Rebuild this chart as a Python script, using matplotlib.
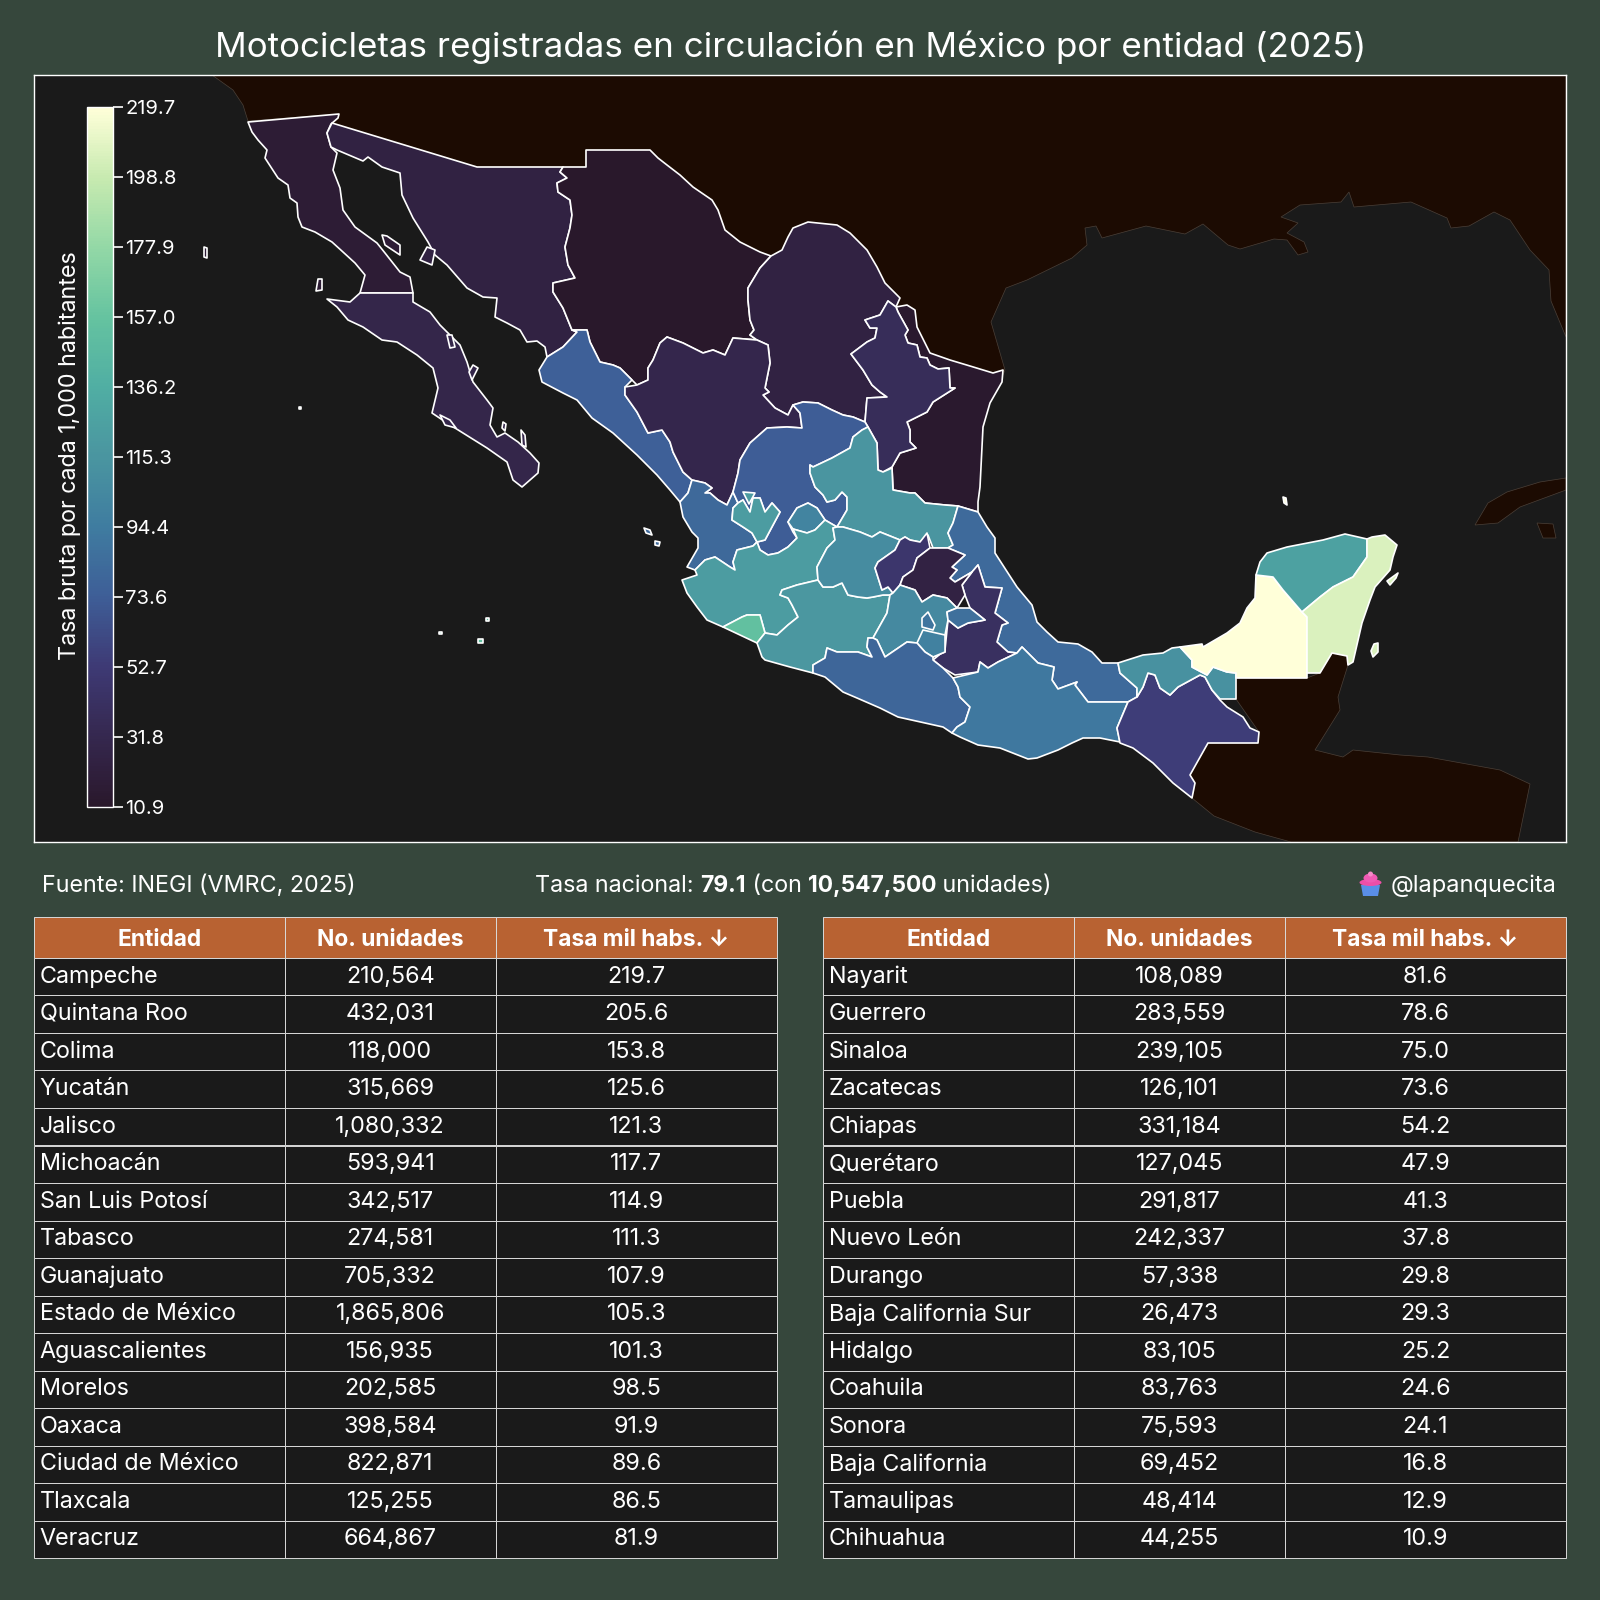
import matplotlib
matplotlib.use("Agg")
import matplotlib.pyplot as plt
from matplotlib.collections import PolyCollection
from matplotlib.colors import LinearSegmentedColormap, Normalize
from matplotlib.cm import ScalarMappable
from matplotlib.patches import Polygon, Ellipse

plt.rcParams["font.family"] = ["Inter", "DejaVu Sans"]

# table values
ENTIDADES_A = ["Campeche", "Quintana Roo", "Colima", "Yucatán", "Jalisco", "Michoacán", "San Luis Potosí", "Tabasco",
               "Guanajuato", "Estado de México", "Aguascalientes", "Morelos", "Oaxaca", "Ciudad de México", "Tlaxcala", "Veracruz"]
UNIDADES_A = ["210,564", "432,031", "118,000", "315,669", "1,080,332", "593,941", "342,517", "274,581",
              "705,332", "1,865,806", "156,935", "202,585", "398,584", "822,871", "125,255", "664,867"]
TASAS_A = [219.7, 205.6, 153.8, 125.6, 121.3, 117.7, 114.9, 111.3, 107.9, 105.3, 101.3, 98.5, 91.9, 89.6, 86.5, 81.9]

ENTIDADES_B = ["Nayarit", "Guerrero", "Sinaloa", "Zacatecas", "Chiapas", "Querétaro", "Puebla", "Nuevo León",
               "Durango", "Baja California Sur", "Hidalgo", "Coahuila", "Sonora", "Baja California", "Tamaulipas", "Chihuahua"]
UNIDADES_B = ["108,089", "283,559", "239,105", "126,101", "331,184", "127,045", "291,817", "242,337",
              "57,338", "26,473", "83,105", "83,763", "75,593", "69,452", "48,414", "44,255"]
TASAS_B = [81.6, 78.6, 75.0, 73.6, 54.2, 47.9, 41.3, 37.8, 29.8, 29.3, 25.2, 24.6, 24.1, 16.8, 12.9, 10.9]

ENCABEZADOS = ["Entidad", "No. unidades", "Tasa mil habs. ↓"]
TICKS_BARRA = [10.9, 31.8, 52.7, 73.6, 94.4, 115.3, 136.2, 157.0, 177.9, 198.8, 219.7]

# map outlines, in map units
EEUU = [(212,75),(233,90),(243,105),(248,121),(339,114),(331,124),(477,167),(586,167),(586,150),(650,150),(680,185),
        (712,210),(735,250),(771,270),(808,240),(850,250),(880,310),(910,345),(950,375),(1003,375),(1005,370),(991,322),(1006,288),
        (1027,280),(1072,258),(1087,245),(1085,228),(1096,226),(1102,238),(1146,226),(1185,234),(1203,224),(1228,245),
        (1240,249),(1274,239),(1287,240),(1298,255),(1308,252),(1304,242),(1287,233),(1298,223),(1281,217),(1300,205),
        (1341,202),(1349,192),(1354,207),(1411,202),(1447,218),(1451,228),(1469,226),(1494,212),(1510,220),(1530,250),
        (1549,270),(1551,301),(1566,337),(1566,75)]
CENTROAMERICA = [(1236,678),(1307,678),(1320,673),(1332,653),(1347,656),(1348,665),(1338,697),(1340,710),(1315,750),
                 (1343,757),(1353,750),(1400,755),(1428,757),(1500,770),(1530,784),(1518,842),(1291,842),(1255,832),
                 (1214,816),(1192,798),(1195,783),(1190,775),(1208,743),(1258,743),(1259,732),(1236,699)]
CUBA = [(1475,525),(1488,503),(1507,492),(1540,482),(1566,478),(1566,490),(1520,507),(1498,523)]
JUVENTUD = [(1537,523),(1553,524),(1556,538),(1543,538)]

BAJA_CALIFORNIA = [(248,122),(339,114),(338,118),(331,124),(327,133),(331,147),(337,153),(333,170),(340,188),(343,210),
                   (355,227),(377,243),(385,253),(400,272),(410,277),(413,293),(360,293),(365,275),(355,263),(343,252),
                   (332,242),(315,232),(302,227),(298,217),(297,203),(290,198),(288,185),(278,178),(265,158),(267,150),
                   (258,140),(252,132)]
BAJA_CALIFORNIA_SUR = [(413,293),(413,302),(430,312),(440,325),(460,345),(467,362),(473,382),(487,400),(493,408),(490,425),
                       (497,437),(505,433),(518,442),(530,453),(539,463),(538,473),(522,487),(513,480),(507,462),(487,448),
                       (463,433),(447,423),(432,413),(438,388),(433,368),(417,355),(397,342),(382,340),(363,327),(348,320),
                       (337,307),(327,299),(350,302),(360,293)]
SONORA = [(332,123),(477,167),(563,167),(560,172),(567,178),(557,183),(558,192),(570,200),(572,215),(570,228),(565,247),
          (568,265),(575,278),(553,283),(553,292),(563,308),(572,330),(577,332),(563,347),(547,357),(545,347),(537,341),
          (527,342),(520,330),(507,323),(495,317),(497,298),(483,297),(467,288),(447,265),(435,255),(428,242),(413,218),
          (402,195),(400,173),(382,167),(368,157),(363,161),(337,150),(331,147),(327,133)]
CHIHUAHUA = [(563,167),(586,167),(586,150),(650,150),(658,158),(667,165),(680,175),(693,187),(712,200),(718,210),(725,230),
             (740,242),(760,252),(771,256),(760,268),(748,288),(748,300),(750,320),(754,330),(750,335),(757,340),(733,338),
             (725,355),(713,350),(703,353),(683,343),(667,337),(660,343),(653,360),(648,368),(648,380),(637,385),(632,380),
             (620,368),(613,365),(600,362),(590,342),(587,330),(577,330),(572,330),(563,308),(553,292),(553,283),(575,278),
             (568,265),(565,247),(570,228),(572,215),(570,200),(558,192),(557,183),(567,178),(560,172)]
COAHUILA = [(771,256),(782,250),(788,237),(793,228),(808,222),(837,225),(850,233),(867,250),(877,267),(885,283),(900,298),
            (896,307),(888,301),(880,315),(865,320),(870,328),(877,328),(875,338),(867,342),(851,354),(863,370),(872,385),
            (880,392),(887,397),(867,398),(865,422),(853,417),(843,415),(832,410),(818,403),(803,402),(793,405),(788,415),
            (775,408),(763,395),(769,392),(765,388),(770,363),(768,345),(757,340),(750,335),(754,330),(750,320),(748,300),
            (748,288),(760,268)]
NUEVO_LEON = [(880,315),(888,301),(896,307),(898,312),(908,330),(905,335),(908,343),(917,345),(920,357),(927,358),(930,365),
              (938,369),(949,368),(950,388),(955,388),(933,402),(927,412),(907,422),(910,430),(910,442),(916,448),(900,453),
              (892,467),(883,472),(878,470),(877,443),(868,427),(865,422),(867,398),(887,397),(880,392),(872,385),(863,370),
              (851,354),(867,342),(875,338),(877,328),(870,328),(865,320)]
TAMAULIPAS = [(896,307),(907,305),(915,310),(917,327),(930,353),(950,360),(970,366),(993,373),(1003,370),(1002,382),(990,403),
              (983,427),(980,487),(978,502),(978,512),(958,506),(945,505),(925,503),(915,493),(910,493),(893,490),(892,467),
              (900,453),(916,448),(910,442),(910,430),(907,422),(927,412),(933,402),(955,388),(950,388),(949,368),(938,369),
              (930,365),(927,358),(920,357),(917,345),(908,343),(905,335),(908,330),(898,312)]
SAN_LUIS_POTOSI = [(868,427),(877,443),(878,470),(883,472),(892,468),(893,490),(910,493),(915,493),(925,503),(945,505),(958,506),
                   (953,523),(948,533),(953,545),(948,548),(933,548),(928,535),(920,542),(910,540),(905,537),(900,540),(880,532),
                   (872,537),(860,532),(843,527),(837,527),(847,510),(847,497),(842,492),(835,500),(827,502),(823,495),(815,487),
                   (810,473),(810,465),(813,467),(832,458),(850,448),(853,437),(862,430)]
ZACATECAS = [(793,405),(803,402),(818,403),(832,410),(843,415),(853,417),(865,422),(868,427),(862,430),(853,437),(850,448),
             (832,458),(813,467),(810,465),(810,473),(815,487),(823,495),(827,502),(835,500),(842,492),(847,497),(847,510),
             (837,527),(825,520),(817,508),(808,503),(797,508),(788,522),(793,532),(797,538),(788,547),(778,553),(768,555),
             (760,550),(757,542),(765,540),(773,525),(780,512),(772,503),(765,512),(760,498),(753,498),(750,512),(743,500),
             (738,503),(733,492),(738,473),(740,460),(750,443),(767,428),(787,427),(802,428),(800,413)]
DURANGO = [(625,387),(637,385),(648,380),(648,368),(653,360),(660,343),(667,337),(683,343),(703,353),(713,350),(725,355),
           (733,338),(757,340),(768,345),(770,363),(765,388),(769,392),(763,395),(775,408),(788,415),(793,405),(800,413),
           (802,428),(787,427),(767,428),(750,443),(740,460),(738,473),(733,492),(727,505),(718,500),(710,493),(705,493),
           (712,488),(705,483),(692,480),(683,472),(673,452),(670,442),(662,430),(648,433),(637,412),(625,395)]
SINALOA = [(572,330),(587,330),(590,342),(600,362),(613,365),(620,368),(632,380),(625,387),(625,395),(637,412),(648,433),
           (662,430),(670,442),(673,452),(683,472),(692,480),(688,493),(680,502),(670,490),(657,475),(637,455),(613,433),
           (592,418),(577,400),(563,393),(542,382),(539,370),(547,357),(563,347),(577,332)]
NAYARIT = [(680,502),(683,517),(692,532),(698,538),(698,548),(687,567),(695,570),(705,560),(715,557),(730,567),(735,570),
           (733,562),(737,550),(753,546),(757,542),(752,533),(743,527),(732,520),(733,508),(738,503),(733,492),(727,505),
           (718,500),(710,493),(705,493),(712,488),(705,483),(692,480),(688,493)]
AGUASCALIENTES = [(788,522),(797,508),(808,503),(817,508),(825,520),(815,530),(807,533),(793,529)]
JALISCO = [(682,580),(687,593),(697,607),(707,620),(723,627),(742,617),(747,615),(760,615),(765,633),
           (777,635),(788,625),(798,617),(792,605),(788,598),(780,595),(782,590),(797,585),(818,580),(817,567),(827,548),
           (835,540),(833,528),(837,527),(825,520),(815,530),(807,533),(793,529),(797,538),(788,547),(778,553),(768,555),
           (760,550),(757,542),(753,546),(737,550),(733,562),(735,570),(730,567),(715,557),(705,560),(695,570),(697,575)]
JALISCO_NORTE = [(732,520),(733,508),(738,503),(743,500),(750,512),(753,498),(760,498),(765,512),(772,503),(780,512),(773,525),
                 (765,540),(757,542),(752,533),(743,527)]
JALISCO_COLOTLAN = [(743,492),(755,493),(749,504)]
COLIMA = [(723,627),(742,617),(747,615),(760,615),(765,633),(757,643),(740,635)]
MICHOACAN = [(757,643),(762,657),(765,660),(790,667),(813,673),(813,665),(825,658),(827,648),(837,652),(858,652),(872,657),
             (867,647),(868,638),(873,638),(887,613),(890,595),(883,595),(873,597),(867,598),(858,597),(848,595),(842,583),
             (833,587),(823,587),(818,580),(797,585),(782,590),(780,595),(788,598),(792,605),(798,617),(788,625),(777,635),(765,633)]
GUANAJUATO = [(837,527),(843,527),(860,532),(872,537),(880,532),(900,540),(895,550),(878,562),(875,568),(882,590),(888,587),
              (893,593),(890,595),(883,595),(873,597),(867,598),(858,597),(848,595),(842,583),(833,587),(823,587),(818,580),
              (817,567),(827,548),(835,540),(833,528)]
QUERETARO = [(875,568),(878,562),(895,550),(900,540),(905,537),(910,540),(920,542),(927,533),(930,548),(917,558),(913,570),
             (903,577),(900,585),(893,593),(888,587),(882,590)]
HIDALGO = [(903,577),(913,570),(917,558),(930,548),(933,548),(948,548),(965,555),(952,567),(957,570),(950,578),(955,582),
           (972,572),(962,585),(965,595),(957,608),(947,598),(933,595),(922,602),(915,590),(900,585)]
VERACRUZ = [(958,506),(978,512),(987,527),(995,538),(995,553),(1017,587),(1032,605),(1037,622),(1047,632),(1058,642),(1078,644),
            (1092,652),(1102,663),(1118,663),(1120,673),(1137,688),(1137,697),(1128,702),(1088,702),(1075,685),(1077,682),
            (1058,689),(1052,680),(1054,667),(1038,663),(1022,647),(1017,653),(1008,652),(997,642),(1002,625),(1008,623),
            (995,613),(1002,588),(985,587),(978,565),(972,572),(955,582),(950,578),(957,570),(952,567),(965,555),(948,548),
            (953,545),(948,533),(953,523)]
PUEBLA = [(978,565),(972,572),(962,585),(965,595),(970,608),(985,620),(968,623),(958,628),(948,620),(945,650),(933,660),
          (943,668),(955,675),(978,672),(980,662),(988,668),(998,662),(1017,653),(1008,652),(997,642),(1002,625),(1008,623),
          (995,613),(1002,588),(985,587)]
TLAXCALA = [(947,612),(957,608),(970,608),(985,620),(968,623),(958,628),(948,620)]
EDOMEX = [(890,595),(893,593),(900,585),(915,590),(922,602),(933,595),(947,598),(957,608),(947,612),(948,620),(945,635),(945,652),
          (933,657),(925,652),(917,643),(907,642),(885,657),(877,640),(873,638),(887,613)]
CDMX = [(928,612),(935,625),(933,630),(922,627),(922,618)]
MORELOS = [(923,630),(945,635),(945,652),(933,657),(925,652),(917,643)]
GUERRERO = [(813,673),(825,677),(843,692),(857,698),(880,708),(898,717),(943,727),(952,733),(957,727),(965,722),(970,707),
            (960,697),(958,687),(953,678),(943,668),(933,660),(933,657),(925,652),(917,643),(907,642),(885,657),(877,640),
            (873,638),(868,638),(867,647),(872,657),(858,652),(837,652),(827,648),(825,658),(813,665)]
OAXACA = [(953,678),(978,672),(980,662),(988,668),(998,662),(1017,653),(1022,647),(1038,663),(1054,667),(1052,680),(1058,689),
          (1077,682),(1075,685),(1088,702),(1128,702),(1117,728),(1120,742),(1100,738),(1083,738),(1072,743),(1058,750),
          (1037,758),(1028,759),(1000,748),(978,745),(960,737),(952,733),(957,727),(965,722),(970,707),(960,697),(958,687)]
CHIAPAS = [(1128,702),(1137,697),(1143,687),(1148,673),(1155,675),(1160,688),(1170,695),(1178,687),(1200,675),(1205,677),
           (1212,690),(1220,700),(1227,707),(1243,717),(1250,728),(1259,732),(1258,743),(1208,743),(1190,775),(1195,783),
           (1192,798),(1173,783),(1153,763),(1133,748),(1120,743),(1117,728)]
TABASCO = [(1118,663),(1143,655),(1163,653),(1172,648),(1180,647),(1192,660),(1192,667),(1207,675),(1213,667),(1227,672),
           (1236,673),(1236,699),(1220,699),(1212,690),(1205,677),(1200,675),(1178,687),(1170,695),(1160,688),(1155,675),
           (1148,673),(1143,687),(1137,697),(1137,688),(1120,673)]
CAMPECHE = [(1180,647),(1202,644),(1203,647),(1227,633),(1240,623),(1247,608),(1255,598),(1256,575),(1273,577),(1283,590),
            (1302,612),(1307,617),(1307,678),(1236,678),(1236,673),(1227,672),(1213,667),(1207,675),(1192,667),(1192,660)]
YUCATAN = [(1260,562),(1267,553),(1287,547),(1323,540),(1345,534),(1367,539),(1367,557),(1353,577),(1333,587),(1320,597),
           (1302,612),(1283,590),(1273,577),(1256,575)]
QUINTANA_ROO = [(1367,539),(1372,537),(1385,535),(1397,545),(1393,557),(1390,570),(1375,587),(1370,600),(1362,623),(1353,662),
                (1348,665),(1347,656),(1332,653),(1320,673),(1307,673),(1307,617),(1302,612),(1320,597),(1333,587),(1353,577),
                (1367,557)]

# islands
I_GUADALUPE = [(204,247),(207,248),(207,258),(204,257)]
I_CEDROS = [(318,279),(322,279),(322,290),(316,291)]
I_ANGEL = [(382,235),(387,236),(400,245),(400,255),(385,245)]
I_TIBURON = [(427,247),(435,250),(432,265),(420,260)]
I_CARMEN = [(447,335),(452,335),(455,347),(450,348)]
I_SAN_JOSE = [(473,365),(478,368),(472,380),(469,372)]
I_ESPIRITU = [(503,422),(506,424),(505,431),(502,428)]
I_CERRALVO = [(521,430),(525,435),(526,447),(522,445)]
I_MARGARITA = [(440,415),(450,420),(456,428),(445,425)]
I_MARIAS = [(644,528),(650,530),(652,535),(646,533)]
I_MARIAS_2 = [(655,541),(660,542),(659,546),(655,545)]
I_SOCORRO = [(478,639),(483,639),(483,643),(478,643)]
I_CLARION = [(439,632),(442,632),(442,634),(439,634)]
I_BENEDICTO = [(486,618),(489,618),(489,621),(486,621)]
I_ROCA = [(299,407),(301,407),(301,409),(299,409)]
I_COZUMEL = [(1374,644),(1378,643),(1378,652),(1373,657),(1371,651)]
I_MUJERES = [(1387,581),(1398,573),(1396,578),(1390,585)]
I_ARCAS = [(1283,497),(1286,498),(1287,505),(1284,503)]

MAPA = [
    ("Baja California", BAJA_CALIFORNIA), ("Baja California Sur", BAJA_CALIFORNIA_SUR), ("Sonora", SONORA),
    ("Chihuahua", CHIHUAHUA), ("Coahuila", COAHUILA), ("Tamaulipas", TAMAULIPAS), ("Nuevo León", NUEVO_LEON),
    ("Sinaloa", SINALOA), ("Durango", DURANGO), ("Nayarit", NAYARIT), ("Zacatecas", ZACATECAS),
    ("San Luis Potosí", SAN_LUIS_POTOSI), ("Aguascalientes", AGUASCALIENTES), ("Jalisco", JALISCO),
    ("Jalisco", JALISCO_NORTE), ("Jalisco", JALISCO_COLOTLAN), ("Colima", COLIMA), ("Michoacán", MICHOACAN),
    ("Guanajuato", GUANAJUATO), ("Querétaro", QUERETARO), ("Veracruz", VERACRUZ), ("Puebla", PUEBLA), ("Hidalgo", HIDALGO),
    ("Estado de México", EDOMEX), ("Tlaxcala", TLAXCALA), ("Morelos", MORELOS), ("Ciudad de México", CDMX),
    ("Guerrero", GUERRERO), ("Oaxaca", OAXACA), ("Chiapas", CHIAPAS), ("Tabasco", TABASCO), ("Campeche", CAMPECHE),
    ("Yucatán", YUCATAN), ("Quintana Roo", QUINTANA_ROO),
    ("Baja California", I_GUADALUPE), ("Baja California", I_CEDROS), ("Baja California", I_ANGEL), ("Sonora", I_TIBURON),
    ("Baja California Sur", I_CARMEN), ("Baja California Sur", I_SAN_JOSE), ("Baja California Sur", I_ESPIRITU),
    ("Baja California Sur", I_CERRALVO), ("Baja California Sur", I_MARGARITA), ("Nayarit", I_MARIAS), ("Nayarit", I_MARIAS_2),
    ("Colima", I_SOCORRO), ("Colima", I_CLARION), ("Colima", I_BENEDICTO), ("Colima", I_ROCA),
    ("Quintana Roo", I_COZUMEL), ("Quintana Roo", I_MUJERES), ("Campeche", I_ARCAS),
]

FONDO = "#36473c"
OCEANO = "#1a1a1a"
TIERRA = "#1c0b02"
NARANJA = "#b86232"
COLORES = ["#29182b", "#2f1e3a", "#35284f", "#3e3a75", "#3e5e97", "#3f7ca0", "#4a95a0",
           "#50aea3", "#65c3a0", "#93d8a6", "#c7eab0", "#ffffd9"]
POSICIONES = [0, 0.04, 0.1, 0.2, 0.3, 0.4, 0.5, 0.6, 0.7, 0.8, 0.9, 1]

W = 1600.0


def caja(x0, y0, x1, y1):
    # pixel box (from top left) to figure fractions
    return [x0 / W, 1 - y1 / W, (x1 - x0) / W, (y1 - y0) / W]


tasas = dict(zip(ENTIDADES_A + ENTIDADES_B, TASAS_A + TASAS_B))
cmap = LinearSegmentedColormap.from_list("tasa", list(zip(POSICIONES, COLORES)))
norm = Normalize(min(TICKS_BARRA), max(TICKS_BARRA))

fig = plt.figure(figsize=(16, 16), dpi=100, facecolor=FONDO)

# map
ax = fig.add_axes(caja(33.5, 75, 1566, 842), facecolor=OCEANO)
ax.set_xlim(33.5, 1566)
ax.set_ylim(842, 75)
ax.set_xticks([])
ax.set_yticks([])
for s in ax.spines.values():
    s.set_color("white")
    s.set_linewidth(1.0)
for contorno in [EEUU, CENTROAMERICA, CUBA, JUVENTUD]:
    ax.add_patch(Polygon(contorno, closed=True, facecolor=TIERRA, edgecolor="#4b4038", linewidth=0.5))
estados = PolyCollection([c for _, c in MAPA], array=[tasas[n] for n, _ in MAPA], cmap=cmap, norm=norm,
                         edgecolors="white", linewidths=1.2, closed=True)
ax.add_collection(estados)

# colorbar
cax = fig.add_axes(caja(87, 107, 113, 807))
cb = fig.colorbar(ScalarMappable(norm=norm, cmap=cmap), cax=cax, ticks=TICKS_BARRA)
cb.ax.set_yticklabels([f"{t:.1f}" for t in TICKS_BARRA], color="white", fontsize=14.5)
cb.ax.tick_params(length=7, width=1.2, color="white", pad=2)
cb.outline.set_edgecolor("white")
cb.outline.set_linewidth(1.0)
fig.text(70 / W, 1 - 456 / W, "Tasa bruta por cada 1,000 habitantes", rotation=90, color="white",
         fontsize=16.8, ha="center", va="center")

fig.text(791 / W, 1 - 47 / W, "Motocicletas registradas en circulación en México por entidad (2025)",
         color="white", fontsize=25.2, ha="center", va="center")

# info line
Y_INFO = 1 - 886 / W
fig.text(42 / W, Y_INFO, "Fuente: INEGI (VMRC, 2025)", color="white", fontsize=16.8, va="center")
fig.text(1557 / W, Y_INFO, "@lapanquecita", color="white", fontsize=17, va="center", ha="right")

x = 535 / W
rend = fig.canvas.get_renderer()
for trozo, peso, tam in [("Tasa nacional: ", "normal", 16.8), ("79.1", "bold", 16.4), (" (con ", "normal", 16.8),
                         ("10,547,500", "bold", 16.4), (" unidades)", "normal", 16.8)]:
    t = fig.text(x, Y_INFO, trozo.replace(" ", "\u00a0"), color="white", fontsize=tam, weight=peso, va="center")
    x += t.get_window_extent(rend).width / W

# cupcake icon
iax = fig.add_axes(caja(1359, 871, 1382, 897))
iax.set_xlim(0, 23)
iax.set_ylim(26, 0)
iax.axis("off")
iax.add_patch(Polygon([(2, 14), (21, 14), (19, 25), (4, 25)], closed=True, facecolor="#5a8fe8", edgecolor="none"))
iax.add_patch(Ellipse((11.5, 11.5), 22, 7, facecolor="#ee4fa8", edgecolor="none"))
iax.add_patch(Ellipse((11.5, 7), 14, 9, facecolor="#f05ab4", edgecolor="none"))
iax.add_patch(Ellipse((11.5, 3), 5, 5, facecolor="#f48ac8", edgecolor="none"))


def tabla(box, entidades, unidades, valores):
    tx = fig.add_axes(caja(*box))
    tx.axis("off")
    filas = [[e, u, f"{v:.1f}"] for e, u, v in zip(entidades, unidades, valores)]
    tb = tx.table(cellText=filas, colLabels=ENCABEZADOS, colWidths=[251 / 743, 211 / 743, 281 / 743],
                  bbox=[0, 0, 1, 1], cellLoc="center")
    tb.auto_set_font_size(False)
    tb.set_fontsize(16.8)
    for (r, c), cell in tb.get_celld().items():
        cell.set_edgecolor("#d9d9d9")
        cell.set_linewidth(0.7)
        cell.set_height(41 if r == 0 else 37.5)
        if r == 0:
            cell.set_facecolor(NARANJA)
            cell.set_text_props(color="white", weight="bold", fontsize=16.4, va="center_baseline")
        else:
            cell.set_facecolor(OCEANO)
            cell.set_text_props(color="white")
            if c == 0:
                cell.PAD = 0.024
                cell.set_text_props(ha="left")
                cell._loc = "left"


tabla((33.5, 917, 777, 1558), ENTIDADES_A, UNIDADES_A, TASAS_A)
tabla((823, 917, 1566, 1558), ENTIDADES_B, UNIDADES_B, TASAS_B)

fig.savefig("out.png", dpi=100, facecolor=FONDO)
